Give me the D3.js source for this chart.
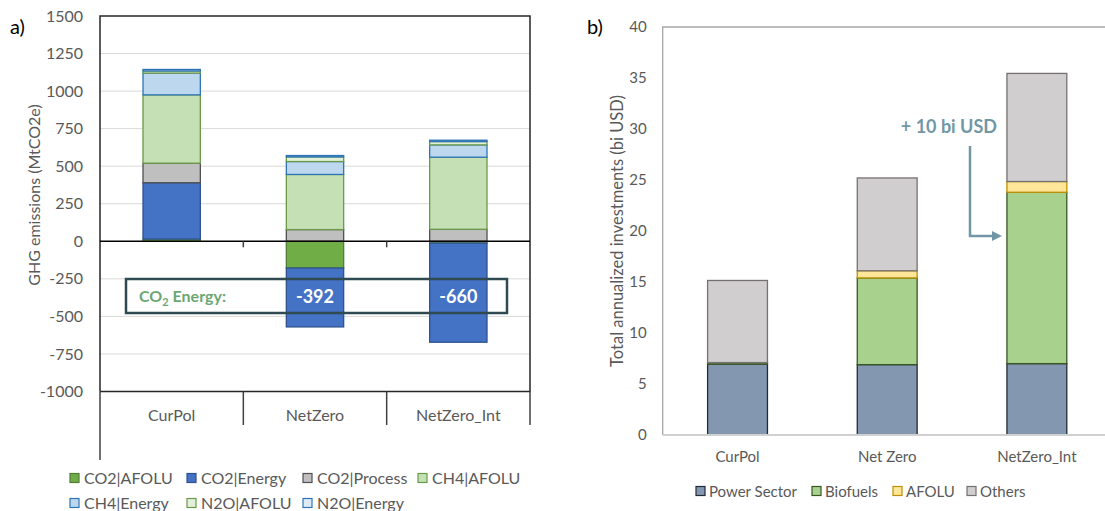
<!DOCTYPE html>
<html>
<head>
<meta charset="utf-8">
<script src="https://cdn.jsdelivr.net/npm/d3@7"></script>
<style>
body{margin:0;background:#fff;}
text{font-family:Lato,"Open Sans",sans-serif;}
</style>
</head>
<body>
<div id="container"></div>
<script>
/* DATA - panel a */
const ghgScenarios = ["CurPol", "NetZero", "NetZero_Int"];
const ghgSeries = ["CO2|AFOLU", "CO2|Energy", "CO2|Process", "CH4|AFOLU", "CH4|Energy", "N2O|AFOLU", "N2O|Energy"];
const co2Afolu   = [15, -178, -12];
const co2Energy  = [375, -392, -660];
const co2Process = [130, 78, 80];
const ch4Afolu   = [455, 367, 480];
const ch4Energy  = [145, 86, 82];
const n2oAfolu   = [14, 31, 22];
const n2oEnergy  = [10, 9, 9];
const ghgTicks = [-1000, -750, -500, -250, 0, 250, 500, 750, 1000, 1250, 1500];
const boxLabels = [-392, -660]; // NetZero, NetZero_Int

/* DATA - panel b */
const invScenarios = ["CurPol", "Net Zero", "NetZero_Int"];
const invSeries = ["Power Sector", "Biofuels", "AFOLU", "Others"];
const powerSector = [6.95, 6.9, 7.0];
const biofuels    = [0.15, 8.5, 16.8];
const afolu       = [0, 0.7, 1.05];
const others      = [8.05, 9.1, 10.6];
const invTicks = [0, 5, 10, 15, 20, 25, 30, 35, 40];

const width = 1105, height = 511;
const tickColor = "#595959";

const svg = d3.select("#container").append("svg")
  .attr("width", width).attr("height", height);

/* ---------- panel a ---------- */
const ghgValues = [co2Afolu, co2Energy, co2Process, ch4Afolu, ch4Energy, n2oAfolu, n2oEnergy];
const ghgTable = ghgScenarios.map((s, i) => {
  const row = {scenario: s};
  ghgSeries.forEach((k, j) => row[k] = ghgValues[j][i]);
  return row;
});
const ghgFill = {"CO2|AFOLU":"#70AD47","CO2|Energy":"#4472C4","CO2|Process":"#BFBFBF","CH4|AFOLU":"#C5E0B4",
  "CH4|Energy":"#BDD7EE","N2O|AFOLU":"#E2F0D9","N2O|Energy":"#DEEBF7"};
const ghgStroke = {"CO2|AFOLU":"#507E32","CO2|Energy":"#2F528F","CO2|Process":"#505050","CH4|AFOLU":"#6A9A48",
  "CH4|Energy":"#2E75B6","N2O|AFOLU":"#6A9A48","N2O|Energy":"#2E75B6"};

const aLeft = 100, aRight = 530, aTop = 16, aBottom = 391.5;
const xA = d3.scaleBand().domain(ghgScenarios).range([aLeft, aRight]).paddingInner(0.6).paddingOuter(0.3);
const yA = d3.scaleLinear().domain([-1000, 1500]).range([aBottom, aTop]);

const gA = svg.append("g");

// gridlines
gA.selectAll(".grid").data(ghgTicks.filter(t => t !== 0 && t !== 1500 && t !== -1000))
  .join("line")
  .attr("x1", aLeft).attr("x2", aRight)
  .attr("y1", d => yA(d)).attr("y2", d => yA(d))
  .attr("stroke", "#d9d9d9").attr("stroke-width", 1);

// y axis labels
const yAxisA = d3.axisLeft(yA).tickValues(ghgTicks).tickSize(0).tickPadding(17).tickFormat(d => String(d));
gA.append("g").attr("transform", `translate(${aLeft},0)`).call(yAxisA)
  .call(g => g.select(".domain").remove())
  .call(g => g.selectAll("text").attr("fill", tickColor).style("font-size", "16px").style("font-family", "Lato"));

// stacked bars
const stackA = d3.stack().keys(ghgSeries).offset(d3.stackOffsetDiverging)(ghgTable);
gA.selectAll(".layer").data(stackA).join("g")
  .attr("fill", d => ghgFill[d.key]).attr("stroke", d => ghgStroke[d.key]).attr("stroke-width", 1.3)
  .selectAll("rect").data(d => d.filter(p => p[1] !== p[0])).join("rect")
  .attr("x", d => xA(d.data.scenario))
  .attr("width", xA.bandwidth())
  .attr("y", d => yA(Math.max(d[0], d[1])))
  .attr("height", d => Math.abs(yA(d[0]) - yA(d[1])));

// frame
gA.append("path")
  .attr("d", `M${aLeft},${aBottom}V${aTop}H${aRight}V${aBottom}H${aLeft}`)
  .attr("fill", "none").attr("stroke", "#262626").attr("stroke-width", 1.5);
// zero line
gA.append("line").attr("x1", aLeft).attr("x2", aRight).attr("y1", yA(0)).attr("y2", yA(0))
  .attr("stroke", "#000").attr("stroke-width", 1.5);
// ticks on zero line
const bounds = [aLeft + xA.step(), aLeft + 2 * xA.step()];
gA.selectAll(".zt").data(bounds).join("line")
  .attr("x1", d => d).attr("x2", d => d).attr("y1", yA(0)).attr("y2", yA(0) + 6)
  .attr("stroke", "#404040").attr("stroke-width", 1.5);
// category separators under the plot
gA.selectAll(".sep").data([aLeft + xA.step(), aLeft + 2 * xA.step(), aRight]).join("line")
  .attr("x1", d => d).attr("x2", d => d).attr("y1", aBottom).attr("y2", 425)
  .attr("stroke", "#404040").attr("stroke-width", 1.5);
gA.append("line").attr("x1", aLeft).attr("x2", aLeft).attr("y1", aBottom).attr("y2", 460)
  .attr("stroke", "#404040").attr("stroke-width", 1.5);
// category labels
gA.selectAll(".cat").data(ghgScenarios).join("text")
  .attr("x", d => xA(d) + xA.bandwidth() / 2).attr("y", 421)
  .attr("text-anchor", "middle").attr("fill", tickColor).style("font-size", "16px")
  .text(d => d);

// CO2 Energy box
gA.append("rect").attr("x", 126).attr("y", 279).attr("width", 381).attr("height", 34)
  .attr("fill", "none").attr("stroke", "#2F4A50").attr("stroke-width", 2.5);
const boxText = gA.append("text").attr("x", 139).attr("y", 302)
  .attr("fill", "#6BA773").style("font-size", "16px").style("font-weight", "bold");
boxText.append("tspan").text("CO");
boxText.append("tspan").attr("dy", 4).style("font-size", "11px").text("2");
boxText.append("tspan").attr("dy", -4).text(" Energy:");
gA.selectAll(".bl").data(boxLabels).join("text")
  .attr("x", (d, i) => xA(ghgScenarios[i + 1]) + xA.bandwidth() / 2).attr("y", 303)
  .attr("text-anchor", "middle").attr("fill", "#fff")
  .style("font-size", "18px").style("font-weight", "bold")
  .text(d => d);

// y title
gA.append("text").attr("transform", `translate(40,195) rotate(-90)`)
  .attr("text-anchor", "middle").attr("fill", tickColor).style("font-size", "16px")
  .text("GHG emissions (MtCO2e)");
gA.append("text").attr("x", 10).attr("y", 34).style("font-size", "20px").attr("fill", "#000").text("a)");

// legend
const legA = [[70, 478], [187, 478], [303, 478], [418, 478], [70, 503], [187, 503], [303, 503]];
const lgA = gA.selectAll(".leg").data(ghgSeries).join("g")
  .attr("transform", (d, i) => `translate(${legA[i][0]},${legA[i][1]})`);
lgA.append("rect").attr("x", 0).attr("y", -4.5).attr("width", 9).attr("height", 9)
  .attr("fill", d => ghgFill[d]).attr("stroke", d => ghgStroke[d]).attr("stroke-width", 1.2);
lgA.append("text").attr("x", 14).attr("y", 6).attr("fill", tickColor).style("font-size", "16px").text(d => d);

/* ---------- panel b ---------- */
const invValues = [powerSector, biofuels, afolu, others];
const invTable = invScenarios.map((s, i) => {
  const row = {scenario: s};
  invSeries.forEach((k, j) => row[k] = invValues[j][i]);
  return row;
});
const invFill = {"Power Sector":"#8497B0","Biofuels":"#A9D18E","AFOLU":"#FFE699","Others":"#D0CECE"};
const invStroke = {"Power Sector":"#222A35","Biofuels":"#385723","AFOLU":"#BF9000","Others":"#767171"};

const bLeft = 662.7, bRight = 1111.7, bTop = 27, bBottom = 435;
const xB = d3.scaleBand().domain(invScenarios).range([bLeft, bRight]).paddingInner(0.6).paddingOuter(0.3);
const yB = d3.scaleLinear().domain([0, 40]).range([bBottom, bTop]);
const gB = svg.append("g");

const yAxisB = d3.axisLeft(yB).tickValues(invTicks).tickSize(0).tickPadding(16);
gB.append("g").attr("transform", `translate(${bLeft},0)`).call(yAxisB)
  .call(g => g.select(".domain").remove())
  .call(g => g.selectAll("text").attr("fill", tickColor).style("font-size", "15px").style("font-family", "Lato"));

const stackB = d3.stack().keys(invSeries)(invTable);
gB.selectAll(".layer").data(stackB).join("g")
  .attr("fill", d => invFill[d.key]).attr("stroke", d => invStroke[d.key]).attr("stroke-width", 1.3)
  .selectAll("rect").data(d => d.filter(p => p[1] !== p[0])).join("rect")
  .attr("x", d => xB(d.data.scenario))
  .attr("width", xB.bandwidth())
  .attr("y", d => yB(d[1]))
  .attr("height", d => yB(d[0]) - yB(d[1]));

// frame
gB.append("path").attr("d", `M${bLeft},${bBottom}V${bTop}H${width}`)
  .attr("fill", "none").attr("stroke", "#a6a6a6").attr("stroke-width", 1.3);
gB.append("line").attr("x1", bLeft).attr("x2", width).attr("y1", bBottom).attr("y2", bBottom)
  .attr("stroke", "#d0d0d0").attr("stroke-width", 2);

gB.selectAll(".cat").data(invScenarios).join("text")
  .attr("x", d => xB(d) + xB.bandwidth() / 2).attr("y", 462)
  .attr("text-anchor", "middle").attr("fill", tickColor).style("font-size", "15px")
  .text(d => d);

gB.append("text").attr("transform", `translate(623,${(bTop + bBottom) / 2}) rotate(-90)`)
  .attr("text-anchor", "middle").attr("fill", tickColor).style("font-size", "16.5px")
  .text("Total annualized investments (bi USD)");
gB.append("text").attr("x", 587).attr("y", 34).style("font-size", "20px").attr("fill", "#000").text("b)");

// annotation
const annColor = "#7197A6";
gB.append("text").attr("x", 997).attr("y", 133).attr("text-anchor", "end")
  .attr("fill", annColor).style("font-size", "18px").style("font-weight", "bold").text("+ 10 bi USD");
gB.append("path").attr("d", "M970,146V236H993").attr("fill", "none")
  .attr("stroke", annColor).attr("stroke-width", 2.5);
gB.append("path").attr("d", "M992,231L1002,236L992,241Z").attr("fill", annColor);

// legend
const legB = [696, 812, 893, 967];
const lgB = gB.selectAll(".leg").data(invSeries).join("g")
  .attr("transform", (d, i) => `translate(${legB[i]},491)`);
lgB.append("rect").attr("x", 0).attr("y", -4.5).attr("width", 9).attr("height", 9)
  .attr("fill", d => invFill[d]).attr("stroke", d => invStroke[d]).attr("stroke-width", 1.2);
lgB.append("text").attr("x", 13).attr("y", 5.5).attr("fill", tickColor).style("font-size", "15px").text(d => d);
</script>
</body>
</html>
